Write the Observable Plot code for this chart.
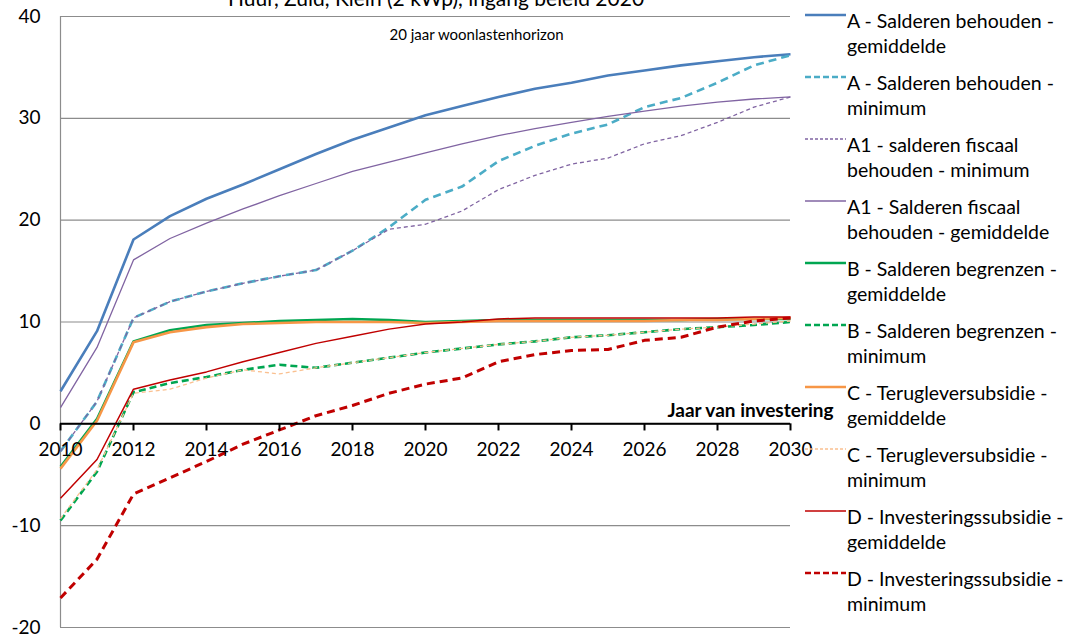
<!DOCTYPE html>
<html>
<head>
<meta charset="utf-8">
<script src="https://cdn.jsdelivr.net/npm/d3@7"></script>
<script src="https://cdn.jsdelivr.net/npm/@observablehq/plot@0.6"></script>
<style>
  body { margin: 0; background: #fff; font-family: Lato, "Open Sans", sans-serif; }
  #wrap { position: relative; width: 1079px; height: 637px; overflow: hidden; background: #fff; }
  #title { position: absolute; left: 0; top: -15px; width: 872px; text-align: center; font-size: 21px; line-height: 25px; color: #000; z-index: 2; }
  #legend { position: absolute; left: 0; top: 0; width: 1079px; height: 637px; pointer-events: none; }
  .sample { position: absolute; left: 805px; width: 41px; height: 8px; }
  .ltext { position: absolute; left: 847px; font-size: 19.5px; line-height: 25px; color: #000; white-space: nowrap; }
  #chart { position: absolute; left: 0; top: 0; }
</style>
</head>
<body>
<div id="wrap">
  <div id="chart"></div>
  <div id="title">Huur, Zuid, Klein (2 kWp), ingang beleid 2020</div>
  <div id="legend"></div>
</div>
<script>
// ---- data ----
const years = [2010, 2011, 2012, 2013, 2014, 2015, 2016, 2017, 2018, 2019, 2020,
               2021, 2022, 2023, 2024, 2025, 2026, 2027, 2028, 2029, 2030];

const seriesNames = [
  "A - Salderen behouden - gemiddelde",
  "A - Salderen behouden - minimum",
  "A1 - salderen fiscaal behouden - minimum",
  "A1 - Salderen fiscaal behouden - gemiddelde",
  "B - Salderen begrenzen - gemiddelde",
  "B - Salderen begrenzen - minimum",
  "C - Terugleversubsidie - gemiddelde",
  "C - Terugleversubsidie - minimum",
  "D - Investeringssubsidie - gemiddelde",
  "D - Investeringssubsidie - minimum"
];

const legendLines = [
  ["A - Salderen behouden -", "gemiddelde"],
  ["A - Salderen behouden -", "minimum"],
  ["A1 - salderen fiscaal", "behouden - minimum"],
  ["A1 - Salderen fiscaal", "behouden - gemiddelde"],
  ["B - Salderen begrenzen -", "gemiddelde"],
  ["B - Salderen begrenzen -", "minimum"],
  ["C - Terugleversubsidie -", "gemiddelde"],
  ["C - Terugleversubsidie -", "minimum"],
  ["D - Investeringssubsidie -", "gemiddelde"],
  ["D - Investeringssubsidie -", "minimum"]
];

const aGem   = [3.2, 9.1, 18.1, 20.4, 22.1, 23.5, 25.0, 26.5, 27.9, 29.1, 30.3, 31.2, 32.1, 32.9, 33.5, 34.2, 34.7, 35.2, 35.6, 36.0, 36.3];
const aMin   = [-2.7, 2.2, 10.4, 12.0, 13.0, 13.8, 14.5, 15.1, 17.0, 19.3, 22.0, 23.3, 25.8, 27.3, 28.5, 29.4, 31.1, 32.0, 33.5, 35.2, 36.2];
const a1Min  = [-2.7, 2.2, 10.4, 12.0, 13.0, 13.8, 14.5, 15.1, 17.0, 19.1, 19.6, 20.9, 23.0, 24.4, 25.5, 26.1, 27.5, 28.3, 29.6, 31.1, 32.1];
const a1Gem  = [1.6, 7.5, 16.1, 18.2, 19.7, 21.1, 22.4, 23.6, 24.8, 25.7, 26.6, 27.5, 28.3, 29.0, 29.6, 30.2, 30.7, 31.2, 31.6, 31.9, 32.1];
const bGem   = [-4.2, 0.5, 8.1, 9.2, 9.7, 9.9, 10.1, 10.2, 10.3, 10.2, 10.0, 10.1, 10.2, 10.2, 10.2, 10.2, 10.2, 10.2, 10.3, 10.3, 10.3];
const bMin   = [-9.5, -4.7, 3.1, 4.0, 4.6, 5.3, 5.8, 5.5, 6.0, 6.5, 7.0, 7.4, 7.8, 8.1, 8.5, 8.7, 9.0, 9.3, 9.5, 9.7, 10.0];
const cGem   = [-4.4, 0.3, 8.0, 9.0, 9.5, 9.8, 9.9, 10.0, 10.0, 10.0, 9.9, 10.0, 10.1, 10.1, 10.1, 10.1, 10.1, 10.2, 10.2, 10.3, 10.4];
const cMin   = [-9.3, -4.5, 3.0, 3.4, 4.5, 5.3, 4.9, 5.5, 6.0, 6.5, 7.0, 7.4, 7.8, 8.1, 8.5, 8.7, 9.0, 9.3, 9.5, 9.8, 10.1];
const dGem   = [-7.3, -3.5, 3.4, 4.3, 5.1, 6.1, 7.0, 7.9, 8.6, 9.3, 9.8, 10.0, 10.3, 10.4, 10.4, 10.4, 10.4, 10.4, 10.4, 10.5, 10.5];
const dMin   = [-17.1, -13.3, -6.9, -5.3, -3.7, -2.0, -0.6, 0.8, 1.8, 3.0, 3.9, 4.5, 6.1, 6.8, 7.2, 7.3, 8.2, 8.5, 9.5, 10.1, 10.4];

const seriesValues = [aGem, aMin, a1Min, a1Gem, bGem, bMin, cGem, cMin, dGem, dMin];

const xTicks = [2010, 2012, 2014, 2016, 2018, 2020, 2022, 2024, 2026, 2028, 2030];
const yTicks = [-20, -10, 0, 10, 20, 30, 40];
const xLabel = "Jaar van investering";
const subLabel = "20 jaar woonlastenhorizon";

// ---- styles (separate from data) ----
const styles = [
  {stroke: "#4a7ebb", width: 2.6, dash: null},
  {stroke: "#4bacc6", width: 2.6, dash: "8,5"},
  {stroke: "#8064a2", width: 1.3, dash: "4,3"},
  {stroke: "#8064a2", width: 1.3, dash: null},
  {stroke: "#00a651", width: 2.4, dash: null},
  {stroke: "#00a651", width: 2.6, dash: "7,4"},
  {stroke: "#f79646", width: 2.6, dash: null},
  {stroke: "#fac090", width: 1.3, dash: "4,3"},
  {stroke: "#c00000", width: 1.5, dash: null},
  {stroke: "#c00000", width: 3, dash: "8,5"}
];

// tidy table
const table = seriesValues.flatMap((vals, si) =>
  vals.map((v, i) => ({series: seriesNames[si], year: years[i], value: v})));

const lineMarks = seriesNames.map((name, si) =>
  Plot.line(table.filter(d => d.series === name), {
    x: "year", y: "value",
    stroke: styles[si].stroke,
    strokeWidth: styles[si].width,
    strokeDasharray: styles[si].dash,
    strokeLinejoin: "round", strokeLinecap: "butt"
  }));

const chart = Plot.plot({
  width: 850,
  height: 637,
  marginLeft: 60,
  marginRight: 60,
  marginTop: 16,
  marginBottom: 10,
  style: {fontFamily: "Lato, 'Open Sans', sans-serif", fontSize: "19px", color: "#000", background: "transparent"},
  x: {domain: [xTicks[0], xTicks[xTicks.length - 1]], axis: null},
  y: {domain: [yTicks[0], yTicks[yTicks.length - 1]], ticks: yTicks, tickSize: 0, tickPadding: 20, label: null, tickFormat: d => String(d)},
  marks: [
    Plot.ruleY(yTicks, {y: d => d, stroke: "#8c8c8c", strokeWidth: 1.2}),
    Plot.ruleX([xTicks[0]], {x: d => d, stroke: "#8c8c8c", strokeWidth: 1.2}),
    ...lineMarks,
    Plot.ruleY([0], {y: d => d, stroke: "#000", strokeWidth: 2}),
    Plot.ruleX(xTicks, {x: d => d, y1: 0, y2: -0.7, stroke: "#000", strokeWidth: 2}),
    Plot.text(xTicks, {x: d => d, y: 0, dy: 26, text: d => String(d), fontSize: 19, fill: "#000"}),
    Plot.text([xLabel], {x: () => xTicks[xTicks.length - 1], y: () => 0, text: d => d, textAnchor: "end", dx: 43, dy: -13, fontSize: 19, fontWeight: "bold", fill: "#000"}),
    Plot.text([subLabel], {frameAnchor: "top", text: d => d, dx: 51, dy: 13, fontSize: 15, fill: "#000"})
  ]
});
document.getElementById("chart").appendChild(chart);

// ---- legend ----
const legend = document.getElementById("legend");
styles.forEach((s, i) => {
  const yc = 20 + 62 * i;
  const svg = document.createElementNS("http://www.w3.org/2000/svg", "svg");
  svg.setAttribute("class", "sample");
  svg.setAttribute("width", 41);
  svg.setAttribute("height", 8);
  svg.style.top = (yc - 9) + "px";
  const ln = document.createElementNS("http://www.w3.org/2000/svg", "line");
  ln.setAttribute("x1", 0); ln.setAttribute("x2", 41);
  ln.setAttribute("y1", 4); ln.setAttribute("y2", 4);
  ln.setAttribute("stroke", s.stroke);
  ln.setAttribute("stroke-width", Math.min(s.width, 2.4));
  if (s.dash) ln.setAttribute("stroke-dasharray", s.width > 2 ? "6,3" : "3,2");
  svg.appendChild(ln);
  legend.appendChild(svg);
  const t = document.createElement("div");
  t.className = "ltext";
  t.style.top = (yc - 12.5) + "px";
  t.innerHTML = legendLines[i][0] + "<br>" + legendLines[i][1];
  legend.appendChild(t);
});
</script>
</body>
</html>
